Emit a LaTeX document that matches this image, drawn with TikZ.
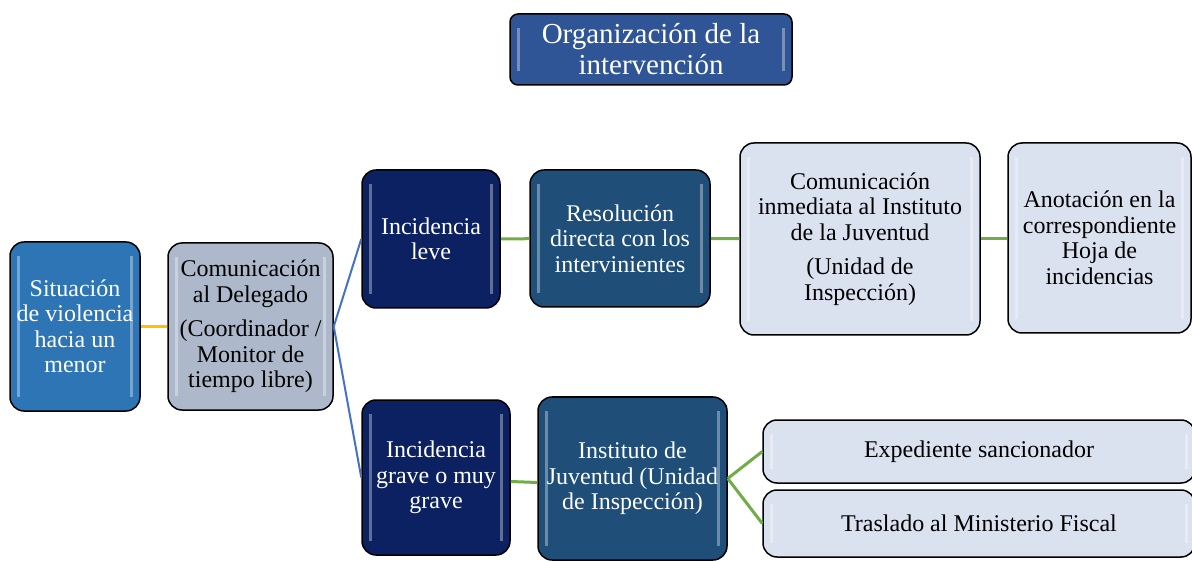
\documentclass[tikz,border=0pt]{standalone}
\usepackage{fontspec}
\setmainfont{Liberation Serif}
\usetikzlibrary{positioning}

\definecolor{titleblue}{HTML}{2F5597}
\definecolor{startblue}{HTML}{2E75B6}
\definecolor{slategray}{HTML}{ADB9CA}
\definecolor{navy}{HTML}{0B2161}
\definecolor{steel}{HTML}{1F4E79}
\definecolor{pale}{HTML}{DAE1EF}
\definecolor{linkorange}{HTML}{FFC000}
\definecolor{linkgreen}{HTML}{70AD47}
\definecolor{linkblue}{HTML}{4472C4}

\begin{document}
\begin{tikzpicture}[x=1pt,y=-1pt,
  box/.style={draw=black, line width=1.5pt, rounded corners=14pt, align=center,
    inner sep=2pt, font=\fontsize{24}{25.5}\selectfont,
    path picture={
      \fill[white,opacity=0.35,sharp corners] ([xshift=7pt,yshift=-14pt]path picture bounding box.north west)
        rectangle ([xshift=10pt,yshift=14pt]path picture bounding box.south west);
      \fill[white,opacity=0.35,sharp corners] ([xshift=-10pt,yshift=-14pt]path picture bounding box.north east)
        rectangle ([xshift=-7pt,yshift=14pt]path picture bounding box.south east);
    }},
  darkbox/.style={box, text=white},
  lightbox/.style={box, fill=pale, text=black},
  link/.style={line width=3pt},
]
\useasboundingbox (0,0) rectangle (1192,561);

  % Title
  \node[darkbox, fill=titleblue, rounded corners=8pt, minimum width=282pt, minimum height=71pt,
    font=\fontsize{29}{31}\selectfont] (title) at (651,49.5) {Organización de la\\intervención};

  % First column
  \node[darkbox, fill=startblue, minimum width=130pt, minimum height=169pt] (situacion) at (75,326.5)
    {Situación\\de violencia\\hacia un\\menor};
  \node[box, fill=slategray, minimum width=165pt, minimum height=167pt] (delegado) at (250.5,326.5)
    {Comunicación\\al Delegado\\[9pt](Coordinador /\\Monitor de\\tiempo libre)};

  % Upper branch
  \node[darkbox, fill=navy, minimum width=138pt, minimum height=138pt] (leve) at (431,239)
    {Incidencia\\leve};
  \node[darkbox, fill=steel, minimum width=180pt, minimum height=137pt] (resolucion) at (620,238.5)
    {Resolución\\directa con los\\intervinientes};
  \node[lightbox, minimum width=240pt, minimum height=192pt] (inmediata) at (860,239)
    {Comunicación\\inmediata al Instituto\\de la Juventud\\[9pt](Unidad de\\Inspección)};
  \node[lightbox, minimum width=183pt, minimum height=190pt] (anotacion) at (1099.5,238)
    {Anotación en la\\correspondiente\\Hoja de\\incidencias};

  % Lower branch
  \node[darkbox, fill=navy, minimum width=148pt, minimum height=155pt] (grave) at (436,477.5)
    {Incidencia\\grave o muy\\grave};
  \node[darkbox, fill=steel, minimum width=189pt, minimum height=163pt] (instituto) at (632.5,478.5)
    {Instituto de\\Juventud (Unidad\\de Inspección)};
  \node[lightbox, minimum width=432pt, minimum height=63pt] (expediente) at (979,451.5)
    {Expediente sancionador};
  \node[lightbox, minimum width=432pt, minimum height=67pt] (traslado) at (979,523.5)
    {Traslado al Ministerio Fiscal};

  % Connectors
  \draw[link, linkorange] (situacion) -- (delegado);
  \draw[line width=2pt, linkblue] (delegado.east) -- (leve.west);
  \draw[line width=2pt, linkblue] (delegado.east) -- (grave.west);
  \draw[link, linkgreen] (leve) -- (resolucion);
  \draw[link, linkgreen] (resolucion) -- (inmediata);
  \draw[link, linkgreen] (inmediata) -- (anotacion.west |- inmediata);
  \draw[link, linkgreen] ([yshift=-4pt]grave.east) -- ([yshift=-4pt]instituto.west);
  \draw[link, linkgreen] (instituto.east) -- (expediente.west);
  \draw[link, linkgreen] (instituto.east) -- (traslado.west);

\end{tikzpicture}
\end{document}
